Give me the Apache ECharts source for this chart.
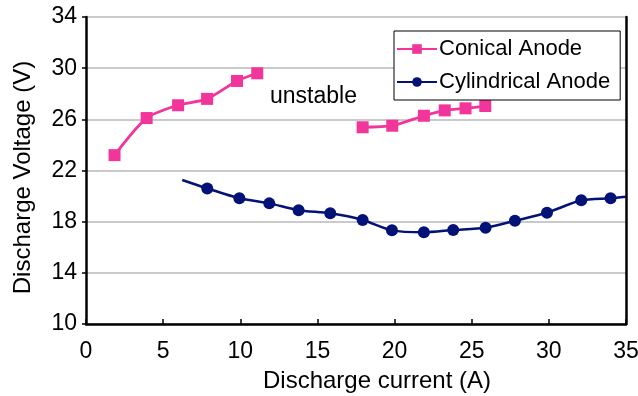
<!DOCTYPE html>
<html>
<head>
<meta charset="utf-8">
<script src="https://cdn.jsdelivr.net/npm/echarts@6/dist/echarts.min.js"></script>
<style>
  html, body { margin: 0; padding: 0; background: #fff; }
  #chart { width: 638px; height: 396px; }
</style>
</head>
<body>
<div id="chart"></div>
<script>
// Discharge current (A) vs discharge voltage (V)
const conicalLowCurrent  = [1.85, 3.93, 5.97, 7.85, 9.79, 11.1];
const conicalLowVoltage  = [23.2, 26.1, 27.1, 27.6, 29.0, 29.6];
const conicalHighCurrent = [17.93, 19.85, 21.9, 23.25, 24.6, 25.88];
const conicalHighVoltage = [25.38, 25.5, 26.28, 26.7, 26.86, 27.04];

const cylCurrent = [6.24, 7.86, 9.94, 11.88, 13.78, 15.83, 17.93, 19.83, 21.9, 23.8, 25.9, 27.8, 29.88, 32.1, 34.0, 35.0];
const cylVoltage = [21.26, 20.6, 19.83, 19.43, 18.9, 18.65, 18.13, 17.32, 17.17, 17.35, 17.53, 18.07, 18.7, 19.67, 19.83, 19.95];
// curve ends that carry no marker
const cylUnmarked = [0, 15];

const xTicks = [0, 5, 10, 15, 20, 25, 30, 35];
const yTicks = [10, 14, 18, 22, 26, 30, 34];

const pink = '#f2359a';
const navy = '#031276';
const FONT = '"Liberation Sans", Arial, Helvetica, sans-serif';

const pairs = (xs, ys) => xs.map((x, i) => [x, ys[i]]);

const cylData = cylCurrent.map((x, i) => {
  const item = { value: [x, cylVoltage[i]] };
  if (cylUnmarked.includes(i)) item.symbol = 'none';
  return item;
});

const conicalStyle = {
  type: 'line',
  name: 'Conical Anode',
  smooth: 0.25,
  symbol: 'rect',
  symbolSize: 12,
  color: pink,
  lineStyle: { color: pink, width: 2.8 },
  itemStyle: { color: pink },
  z: 3
};

const chart = echarts.init(document.getElementById('chart'), null, { renderer: 'canvas' });

chart.setOption({
  animation: false,
  textStyle: { fontFamily: FONT },
  grid: { left: 86, right: 12, top: 17, bottom: 72, outerBoundsMode: 'none', containLabel: false },
  legend: {
    orient: 'vertical',
    left: 394,
    top: 31,
    padding: [7, 10, 7, 2],
    itemGap: 11,
    itemWidth: 40,
    itemHeight: 12,
    backgroundColor: '#fff',
    borderColor: '#000',
    borderWidth: 1,
    data: ['Conical Anode', 'Cylindrical Anode'],
    textStyle: { fontFamily: FONT, fontSize: 22, color: '#000', padding: [0, 0, 0, -3] }
  },
  xAxis: {
    type: 'value',
    min: xTicks[0],
    max: xTicks[xTicks.length - 1],
    interval: 5,
    name: 'Discharge current (A)',
    nameLocation: 'middle',
    nameGap: 45,
    nameTextStyle: { fontFamily: FONT, fontSize: 24, color: '#000', padding: [0, 0, 0, 42] },
    axisLine: { lineStyle: { color: '#000', width: 2.5 } },
    axisTick: { inside: true, length: 5, lineStyle: { color: '#000', width: 1.5 } },
    axisLabel: { fontFamily: FONT, fontSize: 23, color: '#000', margin: 16 },
    splitLine: { show: false }
  },
  yAxis: [{
    type: 'value',
    min: yTicks[0],
    max: yTicks[yTicks.length - 1],
    name: 'Discharge Voltage (V)',
    nameLocation: 'middle',
    nameGap: 51,
    nameTextStyle: { fontFamily: FONT, fontSize: 24, color: '#000', padding: [0, 14, 0, 0] },
    axisLine: { show: true, lineStyle: { color: '#000', width: 2.5 } },
    axisTick: { show: true, length: 4, customValues: yTicks, lineStyle: { color: '#000', width: 1.5 } },
    axisLabel: { fontFamily: FONT, fontSize: 23, color: '#000', margin: 9, customValues: yTicks },
    splitLine: { show: true, lineStyle: { color: '#b8b8b8', width: 1.5 } }
  }, {
    type: 'value',
    position: 'right',
    min: yTicks[0],
    max: yTicks[yTicks.length - 1],
    axisLine: { show: true, lineStyle: { color: '#000', width: 2.5 } },
    axisTick: { show: false },
    axisLabel: { show: false },
    splitLine: { show: false }
  }],
  graphic: [{
    type: 'text',
    left: 270,
    top: 85,
    style: { text: 'unstable', fontFamily: FONT, fontSize: 23, fill: '#000' }
  }],
  series: [
    Object.assign({}, conicalStyle, { data: pairs(conicalLowCurrent, conicalLowVoltage) }),
    Object.assign({}, conicalStyle, { data: pairs(conicalHighCurrent, conicalHighVoltage) }),
    {
      type: 'line',
      name: 'Cylindrical Anode',
      smooth: 0.25,
      symbol: 'circle',
      symbolSize: 12,
      color: navy,
      lineStyle: { color: navy, width: 2.5 },
      itemStyle: { color: navy },
      data: cylData,
      z: 3
    }
  ]
});
</script>
</body>
</html>
